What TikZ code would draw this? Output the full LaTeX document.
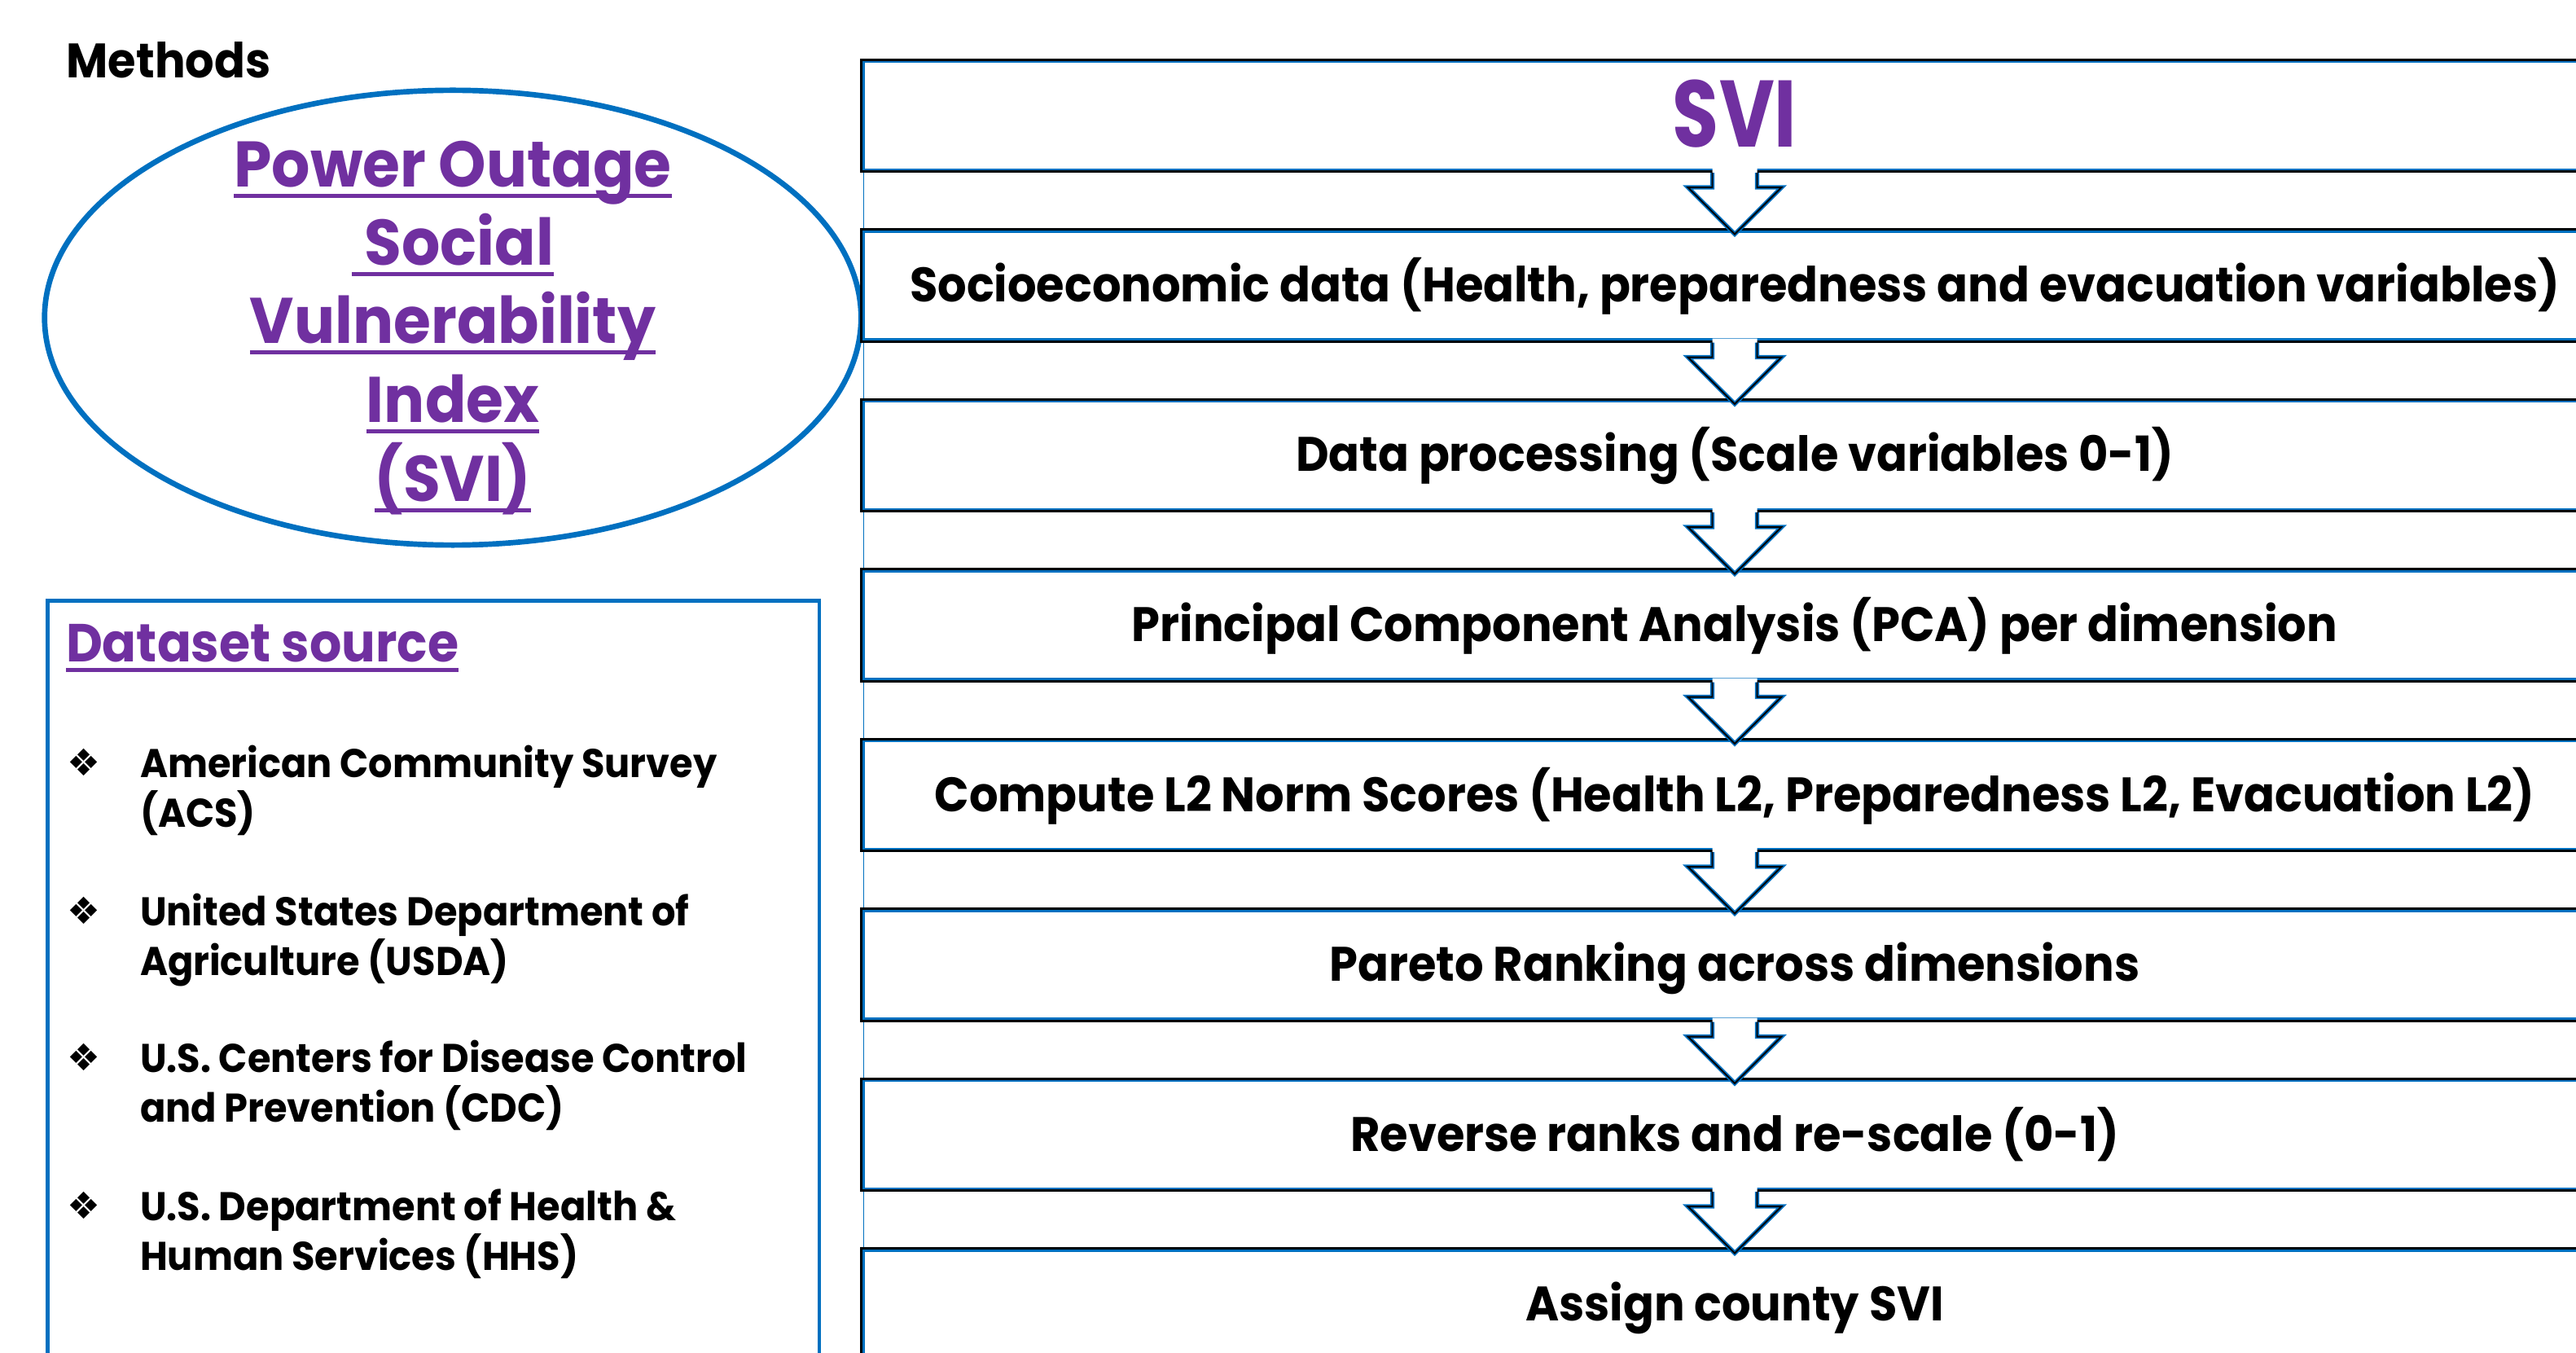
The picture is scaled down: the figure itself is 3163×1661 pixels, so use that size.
\documentclass[tikz,border=0pt]{standalone}
\usepackage{fontspec}
\setmainfont{Poppins}[FakeStretch=0.94]
\newfontfamily\symfont{DejaVu Sans}
\usetikzlibrary{shapes.geometric,calc}
\definecolor{msblue}{HTML}{0070C0}
\definecolor{mspurple}{HTML}{7030A0}

\begin{document}
\begin{tikzpicture}[x=0.01cm,y=-0.01cm,
  flowbox/.style={minimum width=21.46cm, minimum height=1.40cm, inner sep=0pt, outer sep=0pt},
  flowtext/.style={font=\fontsize{16.9}{20}\selectfont\bfseries, anchor=base, inner sep=0pt, outer sep=0pt},
  titletext/.style={font=\fontsize{22.5}{27}\selectfont\bfseries, text=mspurple, anchor=base, inner sep=0pt, outer sep=0pt},
  itemtext/.style={font=\fontsize{14}{17}\selectfont\bfseries, anchor=base west, inner sep=0pt, outer sep=0pt},
  bullet/.style={font=\symfont\fontsize{13}{15}\selectfont, inner sep=0pt, outer sep=0pt},
  uline/.style={mspurple, line width=1.4pt},
  outerrule/.style={black, line width=0.75pt},
  innerrule/.style={msblue, line width=0.75pt},
  arrowrule/.style={msblue, line width=1.5pt, line join=miter},
  arrowcore/.style={black, line width=0.55pt, line join=miter}
]
\useasboundingbox (0,0) rectangle (3163,1661);
\clip (0,0) rectangle (3163,1661);

% ---------- left column ----------
\node[font=\fontsize{16.9}{20}\selectfont\bfseries, anchor=base west, inner sep=0pt] (methods) at (81,96) {Methods};

\node[draw=msblue, line width=1.9pt, ellipse, minimum width=10.02cm, minimum height=5.58cm,
      inner sep=0pt, outer sep=0pt] (ell) at (556,390) {};
\node[titletext] (e1) at (556,230) {Power Outage};
\node[titletext] (e2) at (556,326) {\ Social};
\node[titletext] (e3) at (556,422) {Vulnerability};
\node[titletext] (e4) at (556,519) {Index};
\node[titletext] (e5) at (556,616) {(SVI)};
\foreach \e in {e1,e2,e3,e4,e5}
  \draw[uline] ([yshift=-2.9pt]\e.base west) -- ([yshift=-2.9pt]\e.base east);

\node[draw=msblue, line width=1.3pt, minimum width=9.47cm, minimum height=9.8cm,
      anchor=north west, inner sep=0pt] (src) at (56,735) {};
\node[font=\fontsize{18.7}{22}\selectfont\bfseries, text=mspurple, anchor=base west,
      inner sep=0pt, outer sep=0pt] (srchead) at (81,812) {Dataset source};
\draw[uline] ([yshift=-2.9pt]srchead.base west) -- ([yshift=-2.9pt]srchead.base east);

\foreach \i/\y/\la/\lb in {
   1/954/{American Community Survey}/{(ACS)},
   2/1136/{United States Department of}/{Agriculture (USDA)},
   3/1316/{U.S. Centers for Disease Control}/{and Prevention (CDC)},
   4/1498/{U.S. Department of Health \&}/{Human Services (HHS)}}{
  \node[bullet] (d\i) at (103,\y-18) {❖};
  \node[itemtext] (i\i a) at (172,\y) {\la};
  \node[itemtext] (i\i b) at (172,\y+61) {\lb};
}

% ---------- flow of steps ----------
\foreach \i/\yc in {1/142, 2/350.5, 3/559, 4/767.5, 5/976, 6/1184.5, 7/1393, 8/1601.5}
  \node[flowbox] (b\i) at (2130,\yc) {};

\draw[msblue, line width=0.4pt] ($(b1.north west)+(4,0)$) -- ($(b8.south west)+(4,0)$);

\foreach \i in {1,...,8}{
  \draw[outerrule] ([shift={(0.38pt,0.38pt)}]b\i.south west) rectangle ([shift={(-0.38pt,-0.38pt)}]b\i.north east);
  \draw[innerrule] ([shift={(1.15pt,1.15pt)}]b\i.south west) rectangle ([shift={(-1.15pt,-1.15pt)}]b\i.north east);
}

\foreach \k [evaluate=\k as \nx using int(\k+1)] in {1,...,7}{
  \fill[white] ($(b\k.south)+(-27.5,-5)$) -- ($(b\k.south)+(-27.5,18)$) -- ($(b\k.south)+(-57.5,18)$)
     -- ($(b\nx.north)+(0,7)$) -- ($(b\k.south)+(57.5,18)$) -- ($(b\k.south)+(27.5,18)$)
     -- ($(b\k.south)+(27.5,-5)$) -- cycle;
  \foreach \sty in {arrowrule,arrowcore}
    \draw[\sty] ($(b\k.south)+(-27.5,0)$) -- ($(b\k.south)+(-27.5,18)$) -- ($(b\k.south)+(-57.5,18)$)
       -- ($(b\nx.north)+(0,7)$) -- ($(b\k.south)+(57.5,18)$) -- ($(b\k.south)+(27.5,18)$)
       -- ($(b\k.south)+(27.5,0)$);
}

\node[anchor=base, inner sep=0pt, text=mspurple, font=\fontsize{33}{38}\selectfont\bfseries] (t1) at (2130,181) {\scalebox{0.85}[1]{SVI}};
\node[flowtext] (t2) at (2130,370.5) {Socioeconomic data (Health, preparedness and evacuation variables)};
\node[flowtext] (t3) at (2130,579) {Data processing (Scale variables 0-1)};
\node[flowtext] (t4) at (2130,787.5) {Principal Component Analysis (PCA) per dimension};
\node[flowtext] (t5) at (2130,996) {Compute L2 Norm Scores (Health L2, Preparedness L2, Evacuation L2)};
\node[flowtext] (t6) at (2130,1204.5) {Pareto Ranking across dimensions};
\node[flowtext] (t7) at (2130,1413) {Reverse ranks and re-scale (0-1)};
\node[flowtext] (t8) at (2130,1621.5) {Assign county SVI};
\end{tikzpicture}
\end{document}
